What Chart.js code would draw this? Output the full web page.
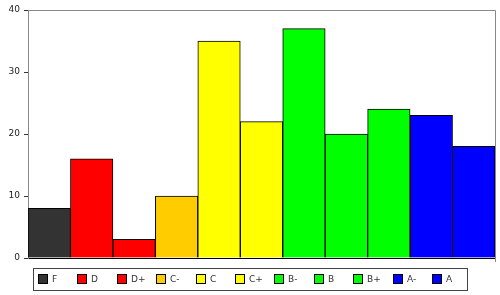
<!DOCTYPE html>
<html>
<head>
<meta charset="utf-8">
<script src="https://cdn.jsdelivr.net/npm/chart.js@4"></script>
<style>
  html, body { margin: 0; padding: 0; background: #fff; }
  #wrap { width: 500px; height: 295px; }
</style>
</head>
<body>
<div id="wrap"><canvas id="gradeChart" width="500" height="295"></canvas></div>
<script>
// =================== DATA ===================
const grades = ['F', 'D', 'D+', 'C-', 'C', 'C+', 'B-', 'B', 'B+', 'A-', 'A'];
const counts = [8, 16, 3, 10, 35, 22, 37, 20, 24, 23, 18];
const gradeColors = ['#333333', '#ff0000', '#ff0000', '#ffcc00', '#ffff00', '#ffff00',
                     '#00ff00', '#00ff00', '#00ff00', '#0000ff', '#0000ff'];
const yTicks = [0, 10, 20, 30, 40];

// =================== FRAME + LEGEND ===================
const framePlugin = {
  id: 'frame',
  afterDraw(chart) {
    const { ctx, chartArea: a } = chart;
    ctx.save();
    // top and right edges of the plot box
    ctx.strokeStyle = '#888';
    ctx.lineWidth = 1;
    ctx.beginPath();
    ctx.moveTo(a.left, a.top + 0.5);
    ctx.lineTo(a.right + 0.5, a.top + 0.5);
    ctx.lineTo(a.right + 0.5, a.bottom + 4);
    ctx.stroke();

    // legend box
    const lx = 33, ly = 268, lw = 434, lh = 22;
    ctx.strokeStyle = '#444';
    ctx.strokeRect(lx + 0.5, ly + 0.5, lw, lh);
    ctx.font = '9px "DejaVu Sans"';
    ctx.textBaseline = 'middle';
    ctx.textAlign = 'left';
    grades.forEach((g, i) => {
      const x = Math.round(38 + i * 39.4);
      ctx.fillStyle = gradeColors[i];
      ctx.fillRect(x, 274, 10, 10);
      ctx.strokeStyle = '#000';
      ctx.strokeRect(x + 0.5, 274.5, 9, 9);
      ctx.fillStyle = '#333';
      ctx.fillText(g, x + 14, 279.5);
    });
    ctx.restore();
  }
};

// =================== CHART ===================
new Chart(document.getElementById('gradeChart'), {
  type: 'bar',
  data: {
    labels: grades,
    datasets: [{
      data: counts,
      backgroundColor: gradeColors,
      borderColor: '#000',
      borderWidth: 1,
      categoryPercentage: 1,
      barPercentage: 1
    }]
  },
  options: {
    responsive: false,
    animation: false,
    layout: { padding: { top: 10, right: 5, bottom: 29, left: 0 } },
    plugins: {
      legend: { display: false },
      tooltip: { enabled: false }
    },
    scales: {
      x: {
        ticks: { display: false },
        grid: { display: false },
        border: { color: '#000', width: 1 }
      },
      y: {
        min: 0,
        max: 40,
        afterFit: s => { s.width = 28; },
        afterBuildTicks: s => { s.ticks = yTicks.map(v => ({ value: v })); },
        ticks: {
          color: '#222',
          font: { family: 'DejaVu Sans', size: 9 },
          padding: 4
        },
        grid: { drawOnChartArea: false, tickLength: 4, color: '#333' },
        border: { color: '#888', width: 1 }
      }
    }
  },
  plugins: [framePlugin]
});
</script>
</body>
</html>
